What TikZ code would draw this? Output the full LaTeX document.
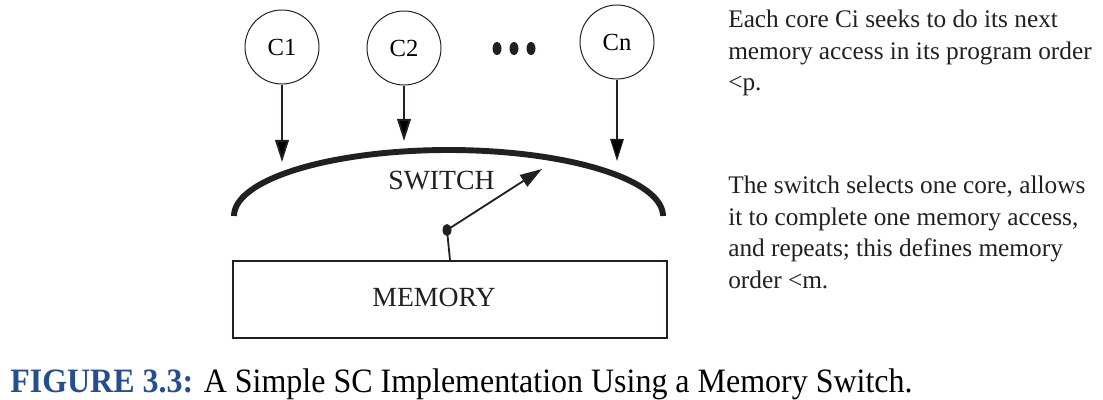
\documentclass[tikz,border=0pt]{standalone}
\usepackage{fontspec}
\setmainfont{Liberation Serif}
\usetikzlibrary{arrows.meta}
\definecolor{ink}{RGB}{35,31,32}
\definecolor{capblue}{RGB}{36,78,140}

\begin{document}
\begin{tikzpicture}[x=0.025cm,y=-0.025cm,>={Triangle[length=0.55cm,width=0.34cm]},
	core/.style={circle,draw=ink,line width=0.7pt,minimum size=1.85cm,inner sep=0pt,font=\fontsize{17.5pt}{20pt}\selectfont},
	lbl/.style={inner sep=0pt,text=ink,font=\fontsize{19.7pt}{22pt}\selectfont},
	note/.style={anchor=base west,inner sep=0pt,align=left,text=ink,font=\fontsize{18pt}{22.3pt}\selectfont},
	memory/.style={rectangle,draw=ink,line width=1.2pt,minimum width=10.85cm,minimum height=1.925cm,inner sep=0pt}]
	\useasboundingbox (0,0) rectangle (1103,400);
	\node[core] 		(c1) at (282,47) {C1};
	\node[core] 		(c2) at (404,48) {C2};
	\node[core] 		(cn) at (617,42) {Cn};
	\foreach \x in {497,514,531}
		\fill[ink] (\x,48.5) ellipse [x radius=4.5, y radius=6.5];
	\draw[ink,line width=4.2pt] plot[domain=180:360,samples=80,smooth] ({448.5+214.5*cos(\x)},{216+66*sin(\x)});
	\coordinate (sw1) at (282,162);
	\coordinate (sw2) at (404,141);
	\coordinate (swn) at (617,161);
	\node[lbl] 		(switch) at (441.5,181) {SWITCH};
	\node[memory] 		(mem) at (450,299.5) {};
	\node[lbl] 		(memtxt) at (434,297) {MEMORY};
	\coordinate (pivot) at (447,230);
	\coordinate (tip) at (542,169);
	\path[->,draw=ink,line width=1.4pt]
	(c1) edge (sw1)
	(c2) edge (sw2)
	(cn) edge [line width=0.8pt] (swn);
	\draw[ink,line width=1.3pt] (mem.north) -- (pivot);
	\draw[->,ink,line width=1.3pt] (pivot) -- (tip);
	\fill[ink] (pivot) ellipse [x radius=4.5, y radius=6];
	\node[note] 		(n1) at (728,90.5) {Each core Ci seeks to do its next\\memory access in its program order\\<p.};
	\node[note] 		(n2) at (728,288) {The switch selects one core, allows\\it to complete one memory access,\\and repeats; this defines memory\\order <m.};
	\node[anchor=base west,inner sep=0pt] (cap) at (10,392) {\resizebox{22.55cm}{\height}{\fontsize{24.3pt}{28pt}\selectfont\textcolor{capblue}{\textbf{FIGURE 3.3:}} A Simple SC Implementation Using a Memory Switch.}};
\end{tikzpicture}
\end{document}
